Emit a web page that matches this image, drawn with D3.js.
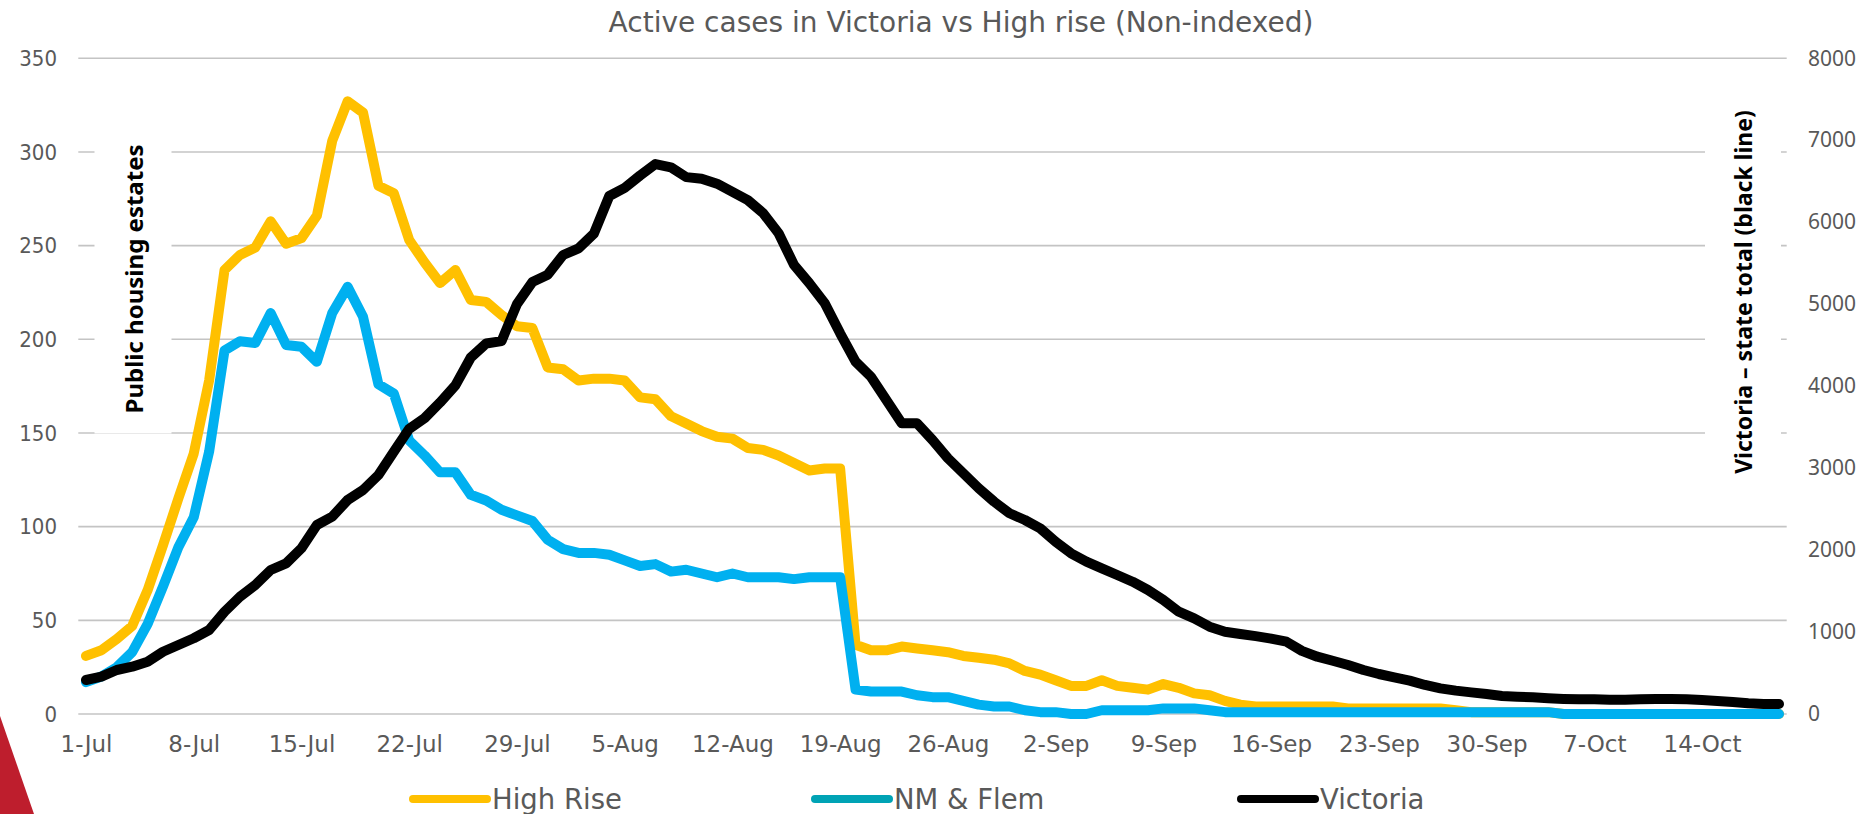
<!DOCTYPE html>
<html><head><meta charset="utf-8">
<script src="https://cdn.jsdelivr.net/npm/d3@7"></script>
<style>
html,body{margin:0;padding:0;background:#fff;}
svg{display:block;}
</style></head><body>
<svg id="chart" width="1872" height="814"></svg>
<script>
// ---------- DATA ----------
const startDate = new Date(2020, 6, 1);
const endDate = new Date(2020, 9, 20);
const categories = d3.timeDay.range(startDate, endDate); // 1-Jul .. 19-Oct

const highRise = [31,34,40,47,66,90,115,139,178,237,
  245,249,263,251,254,266,306,327,321,282,
  278,253,241,230,237,221,220,213,207,206,
  185,184,178,179,179,178,169,168,159,155,
  151,148,147,142,141,138,134,130,131,131,
  37,34,34,36,35,34,33,31,30,29,
  27,23,21,18,15,15,18,15,14,13,
  16,14,11,10,7,5,4,4,4,4,
  4,4,3,3,3,3,3,3,3,2,
  1,1,1,1,1,1,0,0,0,0,
  0,0,0,0,0,0,0,0,0,0,0];

const nmFlem = [17,20,25,33,48,68,89,105,140,194,
  199,198,214,197,196,188,214,228,212,176,
  171,146,138,129,129,117,114,109,106,103,
  93,88,86,86,85,82,79,80,76,77,
  75,73,75,73,73,73,72,73,73,73,
  13,12,12,12,10,9,9,7,5,4,
  4,2,1,1,0,0,2,2,2,2,
  3,3,3,2,1,1,1,1,1,1,
  1,1,1,1,1,1,1,1,1,1,
  1,1,1,1,1,1,0,0,0,0,
  0,0,0,0,0,0,0,0,0,0,0];

const victoria = [415,455,537,577,638,760,842,924,1025,1248,
  1431,1574,1757,1838,2022,2306,2407,2611,2733,2916,
  3200,3480,3610,3800,4010,4350,4520,4550,5000,5270,
  5360,5600,5680,5860,6320,6420,6570,6710,6670,6550,
  6530,6470,6370,6270,6110,5865,5480,5255,5011,4645,
  4299,4115,3831,3547,3547,3343,3120,2937,2754,2591,
  2449,2367,2265,2102,1961,1858,1777,1696,1614,1513,
  1391,1248,1167,1065,1004,976,950,920,882,770,
  699,650,598,537,488,447,407,354,313,285,
  264,244,220,211,203,191,183,179,179,175,
  175,179,183,183,179,171,159,146,130,122,122];

const leftTicks = [0,50,100,150,200,250,300,350];
const rightTicks = [0,1000,2000,3000,4000,5000,6000,7000,8000];
const xTickLabels = ["1-Jul","8-Jul","15-Jul","22-Jul","29-Jul","5-Aug","12-Aug","19-Aug",
  "26-Aug","2-Sep","9-Sep","16-Sep","23-Sep","30-Sep","7-Oct","14-Oct"];
const seriesNames = ["High Rise","NM & Flem","Victoria"];
const titleText = "Active cases in Victoria vs High rise (Non-indexed)";
const leftTitle = "Public housing estates";
const rightTitle = "Victoria \u2013 state total (black line)";

// ---------- STYLE / LAYOUT ----------
const seriesColors = ["#FFC000", "#00B0F0", "#000000"];
const legendColors = ["#FFC000", "#00A3B5", "#000000"];
const condFont = "'DejaVu Sans Condensed','DejaVu Sans',sans-serif";
const dvFont = "'DejaVu Sans',sans-serif";
const grey = "#595959";
const plot = {left: 78.3, right: 1786.7, top: 58.3, bottom: 714};

const svg = d3.select("#chart");

// red decorative triangle
svg.append("polygon").attr("points", "0,716 34,814 0,814").attr("fill", "#BE1E2D");

const x = d3.scalePoint().domain(d3.range(categories.length))
  .range([plot.left, plot.right]).padding(0.5);
const yL = d3.scaleLinear().domain([0, 350]).range([plot.bottom, plot.top]);
const yR = d3.scaleLinear().domain([0, 8000]).range([plot.bottom, plot.top]);

// gridlines
svg.append("g").selectAll("line").data(leftTicks).join("line")
  .attr("x1", plot.left).attr("x2", plot.right)
  .attr("y1", d => yL(d)).attr("y2", d => yL(d))
  .attr("stroke", "#C4C4C4").attr("stroke-width", 1.6);

// axis titles with white background
function axisTitle(text, cx, cy, size) {
  const g = svg.append("g").attr("transform", `translate(${cx},${cy}) rotate(-90)`);
  const bg = g.append("rect").attr("fill", "#fff");
  const t = g.append("text").text(text)
    .attr("text-anchor", "middle").attr("dominant-baseline", "central")
    .attr("font-family", "'Noto Sans',sans-serif").attr("font-weight", "bold")
    .attr("font-size", size).attr("fill", "#000");
  const b = t.node().getBBox();
  bg.attr("x", b.x - 20).attr("y", b.y - 22).attr("width", b.width + 40).attr("height", b.height + 44);
}
axisTitle(leftTitle, 133, 279, 24);
axisTitle(rightTitle, 1743, 292, 23);

// series
const line = d3.line().x((d, i) => x(i));
const seriesData = [highRise, nmFlem, victoria];
const yScales = [yL, yL, yR];
seriesData.forEach((s, k) => {
  svg.append("path").datum(s)
    .attr("d", line.y(d => yScales[k](d)))
    .attr("fill", "none").attr("stroke", seriesColors[k])
    .attr("stroke-width", 10).attr("stroke-linejoin", "round").attr("stroke-linecap", "round");
});

// left axis labels
const gl = svg.append("g").attr("transform", `translate(57,0)`)
  .call(d3.axisLeft(yL).tickValues(leftTicks).tickSize(0).tickPadding(0));
gl.select(".domain").remove();
gl.selectAll("text").attr("font-family", condFont).attr("font-size", 22).attr("fill", grey);

// right axis labels
const gr = svg.append("g").attr("transform", `translate(1808,0)`)
  .call(d3.axisRight(yR).tickValues(rightTicks).tickFormat(d3.format("d")).tickSize(0).tickPadding(0));
gr.select(".domain").remove();
gr.selectAll("text").attr("font-family", "'Noto Sans',sans-serif").attr("font-size", 21).attr("fill", grey);

// x axis labels
const xTickIdx = d3.range(0, categories.length, 7);
const gx = svg.append("g").attr("transform", `translate(0,${plot.bottom})`)
  .call(d3.axisBottom(x).tickValues(xTickIdx).tickFormat((d, i) => xTickLabels[i]).tickSize(0));
gx.select(".domain").remove();
gx.selectAll("text").attr("y", 38).attr("dy", 0)
  .attr("font-family", dvFont).attr("font-size", 23).attr("fill", grey);

// title
svg.append("text").text(titleText).attr("x", 961).attr("y", 32)
  .attr("text-anchor", "middle").attr("font-family", dvFont)
  .attr("font-size", 28).attr("fill", grey);

// legend
const legendX = [413, 815, 1241];
const lg = svg.append("g").selectAll("g").data(seriesNames).join("g")
  .attr("transform", (d, i) => `translate(${legendX[i]},799)`);
lg.append("line").attr("x1", 0).attr("x2", 74).attr("y1", 0).attr("y2", 0)
  .attr("stroke", (d, i) => legendColors[i]).attr("stroke-width", 8).attr("stroke-linecap", "round");
lg.append("text").text(d => d).attr("x", 79).attr("y", 9.5)
  .attr("font-family", dvFont).attr("font-size", 27.5).attr("fill", grey);
</script>
</body></html>
